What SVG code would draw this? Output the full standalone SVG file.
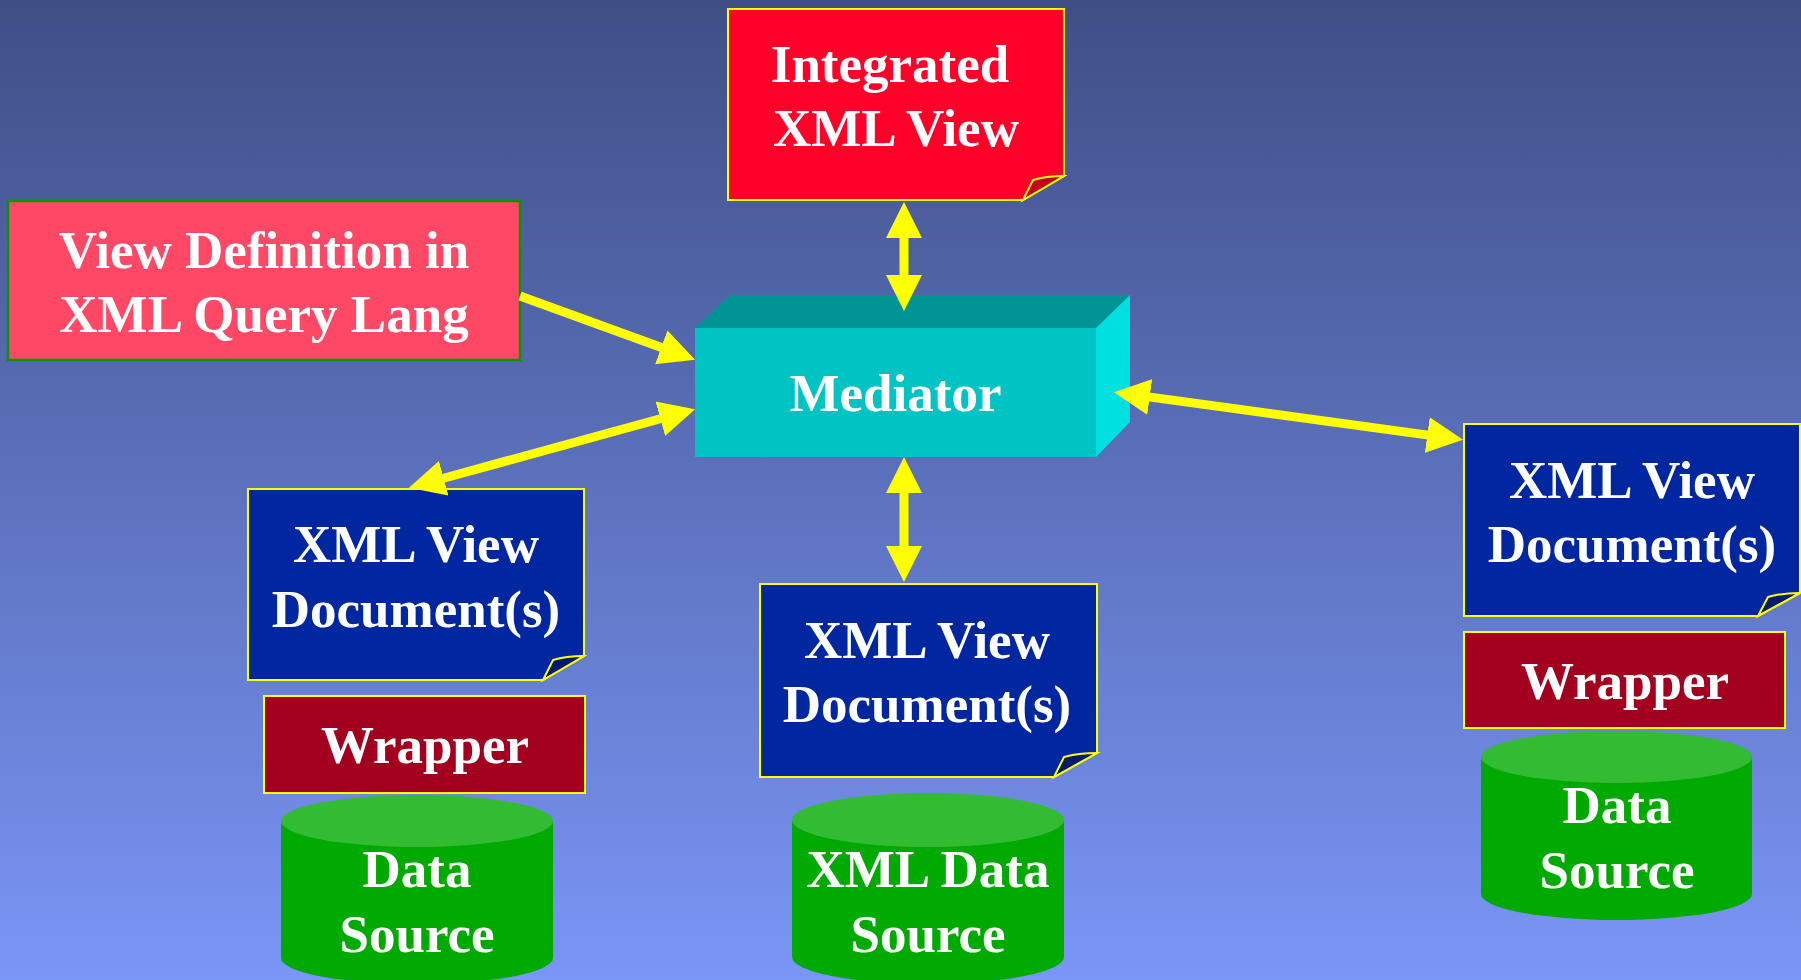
<svg xmlns="http://www.w3.org/2000/svg" width="1801" height="980" viewBox="0 0 1801 980">
<defs>
<linearGradient id="bg" x1="0" y1="0" x2="0" y2="1">
<stop offset="0" stop-color="#3F4E85"/>
<stop offset="1" stop-color="#7A96F6"/>
</linearGradient>
<marker id="ah" markerUnits="userSpaceOnUse" markerWidth="40" markerHeight="40" viewBox="0 -20 40 40" refX="1" refY="0" orient="auto-start-reverse">
<path d="M0,-18 L36,0 L0,18 Z" fill="#FFFF00"/>
</marker>
<style>
.t{font-family:"Liberation Serif","Times New Roman",serif;font-weight:bold;font-size:53px;fill:#FFFFFF;text-anchor:middle}
.doc{fill:#0026A0;stroke:#FFFF00;stroke-width:2}
.flapd{fill:#001A6E;stroke:#FFFF00;stroke-width:2}
.wrap{fill:#A30020;stroke:#FFFF00;stroke-width:2}
.cylb{fill:#00AA00}
.cylt{fill:#33BB33}
.conn{stroke:#FFFF00;stroke-width:9;fill:none}
</style>
</defs>
<rect width="1801" height="980" fill="url(#bg)"/>

<g id="integrated-view">
<path d="M728,9 H1064 V176 L1023,200 H728 Z" fill="#FF0028" stroke="#FFFF00" stroke-width="2"/>
<path d="M1023,200 L1033,180 Q1046,176 1064,176 Z" fill="#C4001E" stroke="#FFFF00" stroke-width="2"/>
<text class="t" x="890" y="82">Integrated</text>
<text class="t" x="896" y="146">XML View</text>
</g>

<g id="view-definition">
<rect x="8" y="201" width="512" height="159" fill="#FF4866" stroke="#009900" stroke-width="2.5"/>
<text class="t" x="264" y="268">View Definition in</text>
<text class="t" x="264" y="332">XML Query Lang</text>
</g>

<g id="mediator">
<polygon points="695,328 730,295 1130,295 1096,328" fill="#009494"/>
<polygon points="1096,328 1130,295 1130,422 1096,457" fill="#00E0E0"/>
<rect x="695" y="328" width="401" height="129" fill="#00C4C4"/>
<text class="t" x="895.5" y="411">Mediator</text>
</g>

<g id="doc-left">
<path class="doc" d="M248,489 H584 V656 L543,680 H248 Z"/>
<path class="flapd" d="M543,680 L553,660 Q566,656 584,656 Z"/>
<text class="t" x="416" y="562">XML View</text>
<text class="t" x="416" y="627">Document(s)</text>
</g>

<g id="wrapper-left">
<rect class="wrap" x="264" y="696" width="321" height="97"/>
<text class="t" x="425" y="763">Wrapper</text>
</g>

<g id="source-left">
<path class="cylb" d="M281,821 V958 A136,26 0 0 0 553,958 V821 Z"/>
<ellipse class="cylt" cx="417" cy="821" rx="136" ry="26"/>
<text class="t" x="417" y="887">Data</text>
<text class="t" x="417" y="952">Source</text>
</g>

<g id="doc-middle">
<path class="doc" d="M760,584 H1097 V753 L1054,777 H760 Z"/>
<path class="flapd" d="M1054,777 L1064,757 Q1078,753 1097,753 Z"/>
<text class="t" x="927" y="658">XML View</text>
<text class="t" x="927" y="722">Document(s)</text>
</g>

<g id="source-middle">
<path class="cylb" d="M792,820 V957 A136,27 0 0 0 1064,957 V820 Z"/>
<ellipse class="cylt" cx="928" cy="820" rx="136" ry="27"/>
<text class="t" x="928" y="887">XML Data</text>
<text class="t" x="928" y="952">Source</text>
</g>

<g id="doc-right">
<path class="doc" d="M1464,424 H1800 V593 L1758,616 H1464 Z"/>
<path class="flapd" d="M1758,616 L1768,597 Q1781,593 1800,593 Z"/>
<text class="t" x="1632" y="498">XML View</text>
<text class="t" x="1632" y="562">Document(s)</text>
</g>

<g id="wrapper-right">
<rect class="wrap" x="1464" y="632" width="321" height="96"/>
<text class="t" x="1625" y="699">Wrapper</text>
</g>

<g id="source-right">
<path class="cylb" d="M1481,757 V894 A135.5,26 0 0 0 1752,894 V757 Z"/>
<ellipse class="cylt" cx="1616.5" cy="757" rx="135.5" ry="26"/>
<text class="t" x="1617" y="823">Data</text>
<text class="t" x="1617" y="888">Source</text>
</g>

<g id="connectors">
<line class="conn" x1="904" y1="237" x2="904" y2="276" marker-start="url(#ah)" marker-end="url(#ah)"/>
<line class="conn" x1="520" y1="296" x2="662.2" y2="347.7" marker-end="url(#ah)"/>
<line class="conn" x1="661.3" y1="418.5" x2="442.7" y2="478.5" marker-start="url(#ah)" marker-end="url(#ah)"/>
<line class="conn" x1="904" y1="492" x2="904" y2="547" marker-start="url(#ah)" marker-end="url(#ah)"/>
<line class="conn" x1="1148.7" y1="396.9" x2="1428.3" y2="435.1" marker-start="url(#ah)" marker-end="url(#ah)"/>
</g>
</svg>
